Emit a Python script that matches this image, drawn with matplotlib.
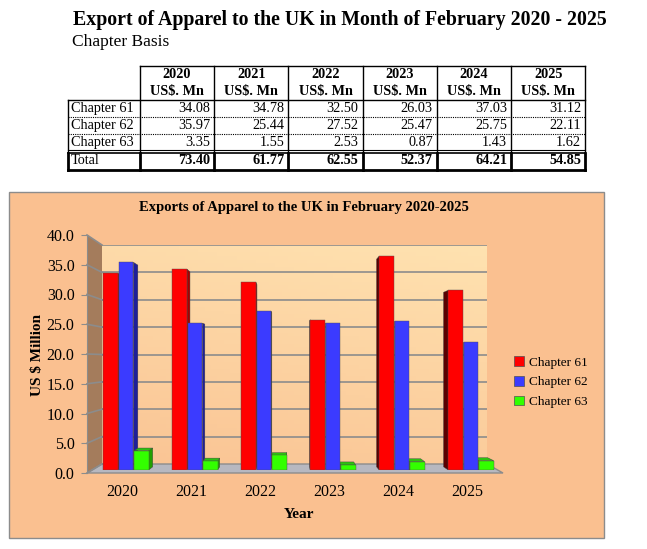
import numpy as np
import matplotlib
matplotlib.use('Agg')
import matplotlib.pyplot as plt
from matplotlib.patches import Rectangle, Polygon, Patch
from matplotlib.colors import LinearSegmentedColormap

years = ['2020', '2021', '2022', '2023', '2024', '2025']
row_labels = ['Chapter 61', 'Chapter 62', 'Chapter 63']
ch61 = [34.08, 34.78, 32.50, 26.03, 37.03, 31.12]
ch62 = [35.97, 25.44, 27.52, 25.47, 25.75, 22.11]
ch63 = [3.35, 1.55, 2.53, 0.87, 1.43, 1.62]
totals = [73.40, 61.77, 62.55, 52.37, 64.21, 54.85]

W, H = 647, 549
plt.rcParams['font.family'] = ['Liberation Serif', 'DejaVu Serif']
fig = plt.figure(figsize=(W / 100, H / 100), dpi=100)
fig.patch.set_facecolor('white')


def fbox(x0, y0, x1, y1):
    # pixel box (top-left origin) -> figure fraction rect
    return [x0 / W, 1 - y1 / H, (x1 - x0) / W, (y1 - y0) / H]


### pixel overlay for the header, table and chart frame
px = fig.add_axes([0, 0, 1, 1], zorder=0)
px.set_xlim(0, W)
px.set_ylim(H, 0)
px.axis('off')

px.text(73, 20, 'Export of Apparel to the UK in Month of February 2020 - 2025',
        fontsize=14.3, fontweight='bold', va='center', ha='left')
px.text(72, 42, 'Chapter Basis', fontsize=12.5, va='center', ha='left')

# table
col_x = [68, 140] + [140 + 74.2 * (i + 1) for i in range(6)]
row_y = [66, 100, 117, 134, 151, 170]
tfs = 10.3
for i, yr in enumerate(years):
    cx = (col_x[i + 1] + col_x[i + 2]) / 2
    px.text(cx, 74, yr, fontsize=tfs, fontweight='bold', ha='center', va='center')
    px.text(cx, 91, 'US$. Mn', fontsize=tfs, fontweight='bold', ha='center', va='center')
rows = [ch61, ch62, ch63]
for r, (lab, vals) in enumerate(zip(row_labels, rows)):
    cy = (row_y[r + 1] + row_y[r + 2]) / 2
    px.text(71, cy, lab, fontsize=tfs, ha='left', va='center')
    for i, v in enumerate(vals):
        px.text(col_x[i + 2] - 4, cy, '%.2f' % v, fontsize=tfs, ha='right', va='center')
cy = (row_y[4] + row_y[5]) / 2
px.text(71, cy, 'Total', fontsize=tfs, ha='left', va='center')
for i, v in enumerate(totals):
    px.text(col_x[i + 2] - 4, cy, '%.2f' % v, fontsize=tfs, fontweight='bold',
            ha='right', va='center')

k = 'black'
px.plot([140, col_x[-1]], [66, 66], color=k, lw=1)
px.plot([68, col_x[-1]], [100, 100], color=k, lw=1)
for x in col_x[1:]:
    px.plot([x, x], [66, 151], color=k, lw=1)
px.plot([68, 68], [100, 151], color=k, lw=1)
for y in [117, 134]:
    px.plot([68, col_x[-1]], [y, y], color=k, lw=0.8, ls=(0, (1, 1)))
px.plot([68, col_x[-1]], [150, 150], color=k, lw=0.8)
px.plot([68, col_x[-1]], [152.5, 152.5], color=k, lw=1.2)
px.plot([68, col_x[-1]], [169.5, 169.5], color=k, lw=2)
for x in col_x:
    px.plot([x, x], [152.5, 170], color=k, lw=2)

# chart frame
px.add_patch(Rectangle((9, 192), 595, 346, facecolor='#FAC090', edgecolor='#8C8C8C', lw=1))
px.text(304, 208, 'Exports of Apparel to the UK in February 2020-2025',
        fontsize=10.5, fontweight='bold', ha='center', va='center')
px.text(38, 355, 'US $ Million', fontsize=11, fontweight='bold', rotation=90,
        ha='center', va='center')
px.text(299, 514, 'Year', fontsize=11, fontweight='bold', ha='center', va='center')

### back wall
axb = fig.add_axes(fbox(102, 245, 487, 464), zorder=1)
axb.set_xlim(0, 1)
axb.set_ylim(0, 40)
grad = LinearSegmentedColormap.from_list('wall', ['#FAC494', '#FFE2B0'])
gy, gx = np.mgrid[0:1:60j, 0:1:60j]
axb.imshow(0.75 * gy + 0.25 * gx, cmap=grad, extent=[0, 1, 0, 40], origin='lower',
           aspect='auto', zorder=0)
for v in np.arange(5, 45, 5):
    axb.axhline(v, color='#8C8C8C', lw=1.2, zorder=1)
axb.axis('off')

### side wall + floor (pixel space)
deco = fig.add_axes([0, 0, 1, 1], zorder=2)
deco.set_xlim(0, W)
deco.set_ylim(H, 0)
deco.axis('off')
deco.patch.set_alpha(0)
deco.add_patch(Polygon([(87, 235), (102, 245), (102, 464), (87, 473)],
                       closed=True, facecolor='#A47C5C', edgecolor='none'))
deco.add_patch(Polygon([(87, 473), (503, 473), (487, 464), (102, 464)],
                       closed=True, facecolor='#B7B8C0', edgecolor='#8C8C8C', lw=1))
for v in np.arange(0, 45, 5):
    yf = 473 - v * 238 / 40
    yb = 464 - v * 219 / 40
    deco.plot([87, 102], [yf, yb], color='#8C8C8C', lw=1.2)

### front axis with the ticks
axf = fig.add_axes(fbox(87, 235, 503, 473), zorder=3)
xl = ((87 - 122) / 69, (503 - 122) / 69)
axf.set_xlim(*xl)
axf.set_ylim(0, 40)
axf.patch.set_alpha(0)
for s in ['top', 'right', 'bottom']:
    axf.spines[s].set_visible(False)
axf.spines['left'].set_color('#8C8C8C')
axf.set_yticks(np.arange(0, 45, 5))
axf.set_yticklabels(['%.1f' % v for v in np.arange(0, 45, 5)], fontsize=11.5)
axf.set_xticks(range(len(years)))
axf.set_xticklabels(years, fontsize=11.5)
axf.tick_params(axis='y', length=4, color='#8C8C8C', pad=5)
axf.tick_params(axis='x', length=0, pad=8)

### bars
ax = fig.add_axes(fbox(87, 239, 503, 470), zorder=4)
ax.set_xlim(*xl)
ax.set_ylim(0, 40)
ax.axis('off')
ax.patch.set_alpha(0)

series = [(ch61, '#FF0000', '#A80000', '#C00000', 'Chapter 61'),
          (ch62, '#3B3BFF', '#1E1E9A', '#2A2AC0', 'Chapter 62'),
          (ch63, '#33FF00', '#22A000', '#2CC010', 'Chapter 63')]
offsets = [-0.165, 0.057, 0.279]
bw = 0.215
vp = np.array([288.0, H - 360.0])
g = 0.029

fig.canvas.draw()
to_disp = ax.transData.transform
to_data = ax.transData.inverted().transform

items = []
for si, (vals, front, side, top, lab) in enumerate(series):
    for i, v in enumerate(vals):
        x0 = i + offsets[si] - bw / 2
        items.append((x0, v, front, side, top))
items.sort(key=lambda t: -abs(to_disp((t[0] + bw / 2, 0))[0] - vp[0]))

z = 1
for x0, v, front, side, top in items:
    x1 = x0 + bw
    p00, p10, p01, p11 = [to_disp(p) for p in [(x0, 0), (x1, 0), (x0, v), (x1, v)]]
    back = lambda p: p + g * (vp - p)
    if p11[0] < vp[0]:
        quad = [p11, back(p11), back(p10), p10]
        ax.add_patch(Polygon(to_data(np.array(quad)), closed=True, facecolor=side,
                             edgecolor='#404040', lw=0.3, zorder=z))
    elif p01[0] > vp[0]:
        dark = '#5A0000' if front == '#FF0000' else side
        quad = [p01, back(p01), back(p00), p00]
        ax.add_patch(Polygon(to_data(np.array(quad)), closed=True, facecolor=dark,
                             edgecolor='#404040', lw=0.3, zorder=z))
    if p01[1] < vp[1]:
        quad = [p01, p11, back(p11), back(p01)]
        ax.add_patch(Polygon(to_data(np.array(quad)), closed=True, facecolor=top,
                             edgecolor='#404040', lw=0.3, zorder=z))
    ax.bar(x0, v, width=bw, align='edge', color=front, edgecolor='#505050',
           lw=0.3, zorder=z + 0.5)
    z += 1

handles = [Patch(facecolor=s[1], edgecolor='#505050', lw=0.5, label=s[4]) for s in series]
fig.legend(handles=handles, loc='upper left', bbox_to_anchor=(509 / W, 1 - 351 / H),
           frameon=False, fontsize=9.5, handlelength=0.75, handleheight=0.75,
           handletextpad=0.35, labelspacing=0.55, borderaxespad=0)

fig.savefig('out.png', dpi=100)
